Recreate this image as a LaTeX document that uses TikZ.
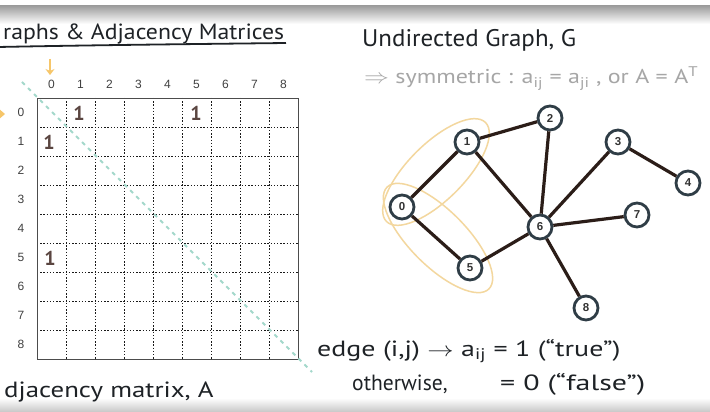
\documentclass[tikz,border=0pt]{standalone}
\usepackage{fontspec}
\setmainfont{PT Sans}
\newfontfamily\lab{Liberation Sans}
\usetikzlibrary{arrows.meta}
\definecolor{edgec}{HTML}{2B1D18}
\definecolor{ringc}{HTML}{2F3D46}
\definecolor{onec}{HTML}{5A4540}
\definecolor{orangec}{HTML}{F6C66A}
\definecolor{ellc}{HTML}{F3D79E}
\definecolor{tealc}{HTML}{A3D8CB}
\definecolor{graytext}{HTML}{A6A6A6}
\definecolor{inkc}{HTML}{1E2226}
\begin{document}
\begin{tikzpicture}[x=1pt,y=-1pt,
  axislab/.style={font=\lab\fontsize{12}{14}\selectfont, text=black!75, inner sep=0pt},
  onemark/.style={font=\fontsize{20}{22}\selectfont\bfseries, text=onec, inner sep=0pt},
  gnode/.style={circle, draw=ringc, line width=2.8pt, fill=white, minimum size=24pt, inner sep=0pt, font=\lab\bfseries\fontsize{11.5}{13}\selectfont, text=black!80},
  gedge/.style={draw=edgec, line width=3.2pt},
  hand/.style={text=inkc, inner sep=0pt, anchor=base west},
  grid dots/.style={line width=1pt, dash pattern=on 1.4pt off 1.8pt, black!90},
  orring/.style={draw=ellc, line width=1.5pt}
]
\useasboundingbox (0,0) rectangle (710,412);
\fill[white] (0,0) rectangle (710,412);
% top and bottom grey bands
\shade[top color=black!38, bottom color=white] (0,6) rectangle (710,24);
\shade[top color=white, bottom color=black!22] (0,398) rectangle (710,412);

% title
\node[hand, font=\fontsize{22}{26}\selectfont] (title) at (3,40) {\scalebox{1.08}[1]{raphs \& Adjacency Matrices}};
\draw[inkc, line width=1.8pt] (-2,47) .. controls (100,45) and (200,44) .. (286,43);

% matrix
\foreach \i in {1,...,8} {
  \draw[grid dots] (37+29*\i,98) -- (37+29*\i,359);
  \draw[grid dots] (37,98+29*\i) -- (298,98+29*\i);
}
\draw[line width=0.9pt, black!70] (37,98) rectangle (298,359);
\foreach \i in {0,...,8} {
  \node[axislab] (col\i) at (51.5+29*\i,84) {\i};
  \node[axislab] (row\i) at (21,112.5+29*\i) {\i};
}
\node[onemark] (m01) at (79,113) {1};
\node[onemark] (m05) at (196,113) {1};
\node[onemark] (m10) at (49,142) {1};
\node[onemark] (m50) at (50,258) {1};
% diagonal
\draw[tealc, line width=1.8pt, dash pattern=on 4pt off 4.5pt] (22,82) -- (312,372);
% orange markers
\coordinate (arrtop) at (50,59);
\coordinate (arrbot) at (50,75);
\draw[orangec, line width=2.6pt, -{Stealth[length=6pt,width=9pt]}] (arrtop) -- (arrbot);
\fill[orangec] (-2,108) -- (5,114) -- (-2,120) -- cycle;

\node[hand, font=\fontsize{22}{26}\selectfont] (adj) at (4,397) {\scalebox{1.22}[1]{djacency matrix, A}};

% right side text
\node[hand, font=\fontsize{24}{28}\selectfont] (ug) at (362,47) {\scalebox{1.04}[1]{Undirected Graph, G}};
\node[hand, text=graytext, font=\fontsize{20}{24}\selectfont] (sym) at (364,84)
  {\scalebox{1.2}[1]{$\Rightarrow$ symmetric : a\textsubscript{ij} = a\textsubscript{ji} , or A = A\textsuperscript{T}}};

% ellipses
\draw[orring, rotate around={45:(436,172)}] (436,172) ellipse [x radius=70pt, y radius=28pt];
\draw[orring, rotate around={-45:(438,238)}] (438,238) ellipse [x radius=72pt, y radius=28pt];

% graph
\node[gnode] (n0) at (402,207) {0};
\node[gnode] (n1) at (467,142) {1};
\node[gnode] (n2) at (550,118) {2};
\node[gnode] (n3) at (618,142) {3};
\node[gnode] (n4) at (688,183) {4};
\node[gnode] (n5) at (470,268) {5};
\node[gnode] (n6) at (540,227) {6};
\node[gnode] (n7) at (637,215) {7};
\node[gnode] (n8) at (586,308) {8};
\foreach \a/\b in {0/1,1/2,1/6,2/6,0/5,5/6,6/3,3/4,6/7,6/8}
  \draw[gedge] (n\a) -- (n\b);

% bottom right text
\node[hand, font=\fontsize{22}{26}\selectfont] (edge) at (317,356)
  {\scalebox{1.27}[1]{edge (i,j) $\rightarrow$ a\textsubscript{ij} = 1 (“true”)}};
\node[hand, font=\fontsize{22}{26}\selectfont] (other) at (352,390) {\scalebox{0.98}[1]{otherwise,}};
\node[hand, font=\fontsize{22}{26}\selectfont] (zero) at (500,390) {\scalebox{1.36}[1]{= 0 (“false”)}};
\end{tikzpicture}
\end{document}
